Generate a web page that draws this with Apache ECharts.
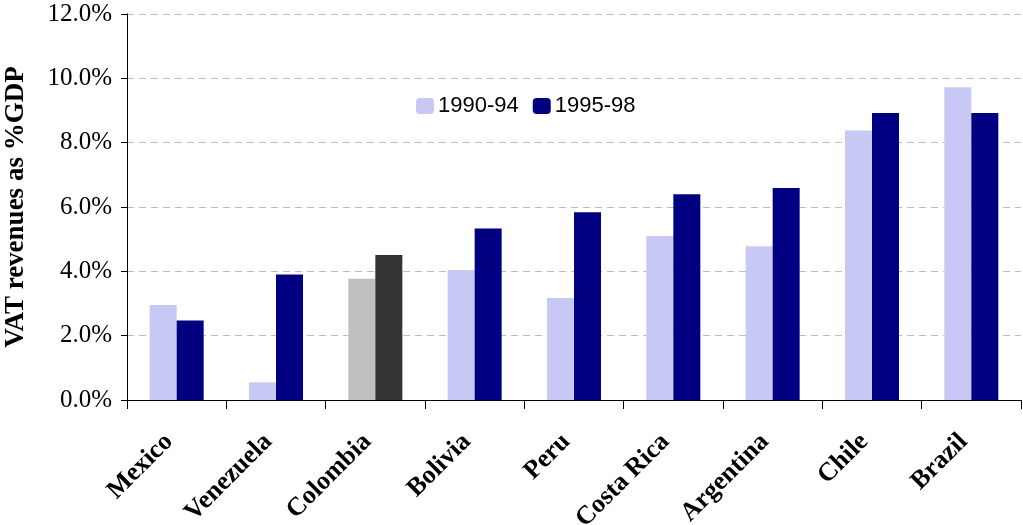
<!DOCTYPE html>
<html>
<head>
<meta charset="utf-8">
<script src="https://cdn.jsdelivr.net/npm/echarts@6/dist/echarts.min.js"></script>
<style>
  html, body { margin: 0; padding: 0; background: #ffffff; }
  #chart { width: 1023px; height: 525px; }
</style>
</head>
<body>
<div id="chart"></div>
<script>
// VAT revenues as a share of GDP, Latin American countries
const countries = ['Mexico', 'Venezuela', 'Colombia', 'Bolivia', 'Peru', 'Costa Rica', 'Argentina', 'Chile', 'Brazil'];
const vat1990_94 = [2.95, 0.55, 3.77, 4.04, 3.17, 5.10, 4.78, 8.38, 9.72];
const vat1995_98 = [2.47, 3.90, 4.51, 5.33, 5.84, 6.40, 6.59, 8.92, 8.92];
const yTicks = [0, 2, 4, 6, 8, 10, 12];

// Colombia is drawn in greys
const highlighted = 'Colombia';
const lightColor = '#c8c8f5';
const darkColor = '#000080';
const lightGrey = '#c0c0c0';
const darkGrey = '#333333';

function seriesData(values, greyColor) {
  return values.map((v, i) => countries[i] === highlighted
    ? { value: v, itemStyle: { color: greyColor } }
    : v);
}

const chart = echarts.init(document.getElementById('chart'), null, { renderer: 'canvas' });

chart.setOption({
  animation: false,
  backgroundColor: '#ffffff',
  grid: { left: 127, right: 2, top: 14, bottom: 125, containLabel: false, outerBoundsMode: 'none' },
  legend: {
    left: 416,
    top: 95,
    padding: 0,
    itemWidth: 18,
    itemHeight: 16,
    itemGap: 14,
    textStyle: { fontFamily: '"Liberation Sans", sans-serif', fontSize: 22, color: '#000000', padding: [0, 0, 0, -1] },
    data: ['1990-94', '1995-98']
  },
  xAxis: {
    type: 'category',
    data: countries,
    boundaryGap: true,
    axisLine: { lineStyle: { color: '#000000', width: 1 } },
    axisTick: { show: true, alignWithLabel: false, length: 9, lineStyle: { color: '#000000' } },
    axisLabel: {
      rotate: 45,
      margin: 30,
      padding: [0, 11, 0, 0],
      interval: 0,
      fontFamily: '"Liberation Serif", "DejaVu Serif", serif',
      fontWeight: 'bold',
      fontSize: 26,
      color: '#000000'
    }
  },
  yAxis: {
    type: 'value',
    min: yTicks[0],
    max: yTicks[yTicks.length - 1],
    interval: 2,
    name: 'VAT revenues as %GDP',
    nameLocation: 'middle',
    nameGap: 97,
    nameRotate: 90,
    nameTextStyle: { fontFamily: '"Liberation Serif", "DejaVu Serif", serif', fontWeight: 'bold', fontSize: 27, color: '#000000' },
    axisLine: { show: true, lineStyle: { color: '#000000', width: 1 } },
    axisTick: { show: true, length: 6, lineStyle: { color: '#000000' } },
    axisLabel: {
      margin: 15,
      fontFamily: '"Liberation Serif", "DejaVu Serif", serif',
      fontSize: 25,
      color: '#000000',
      formatter: v => v.toFixed(1) + '%'
    },
    splitLine: { show: true, lineStyle: { color: '#bdbdbd', type: [7, 5], width: 1 } }
  },
  series: [
    {
      name: '1990-94',
      type: 'bar',
      barWidth: 27,
      barGap: '0%',
      itemStyle: { color: lightColor },
      data: seriesData(vat1990_94, lightGrey)
    },
    {
      name: '1995-98',
      type: 'bar',
      barWidth: 27,
      barGap: '0%',
      itemStyle: { color: darkColor },
      data: seriesData(vat1995_98, darkGrey)
    }
  ]
});
</script>
</body>
</html>
